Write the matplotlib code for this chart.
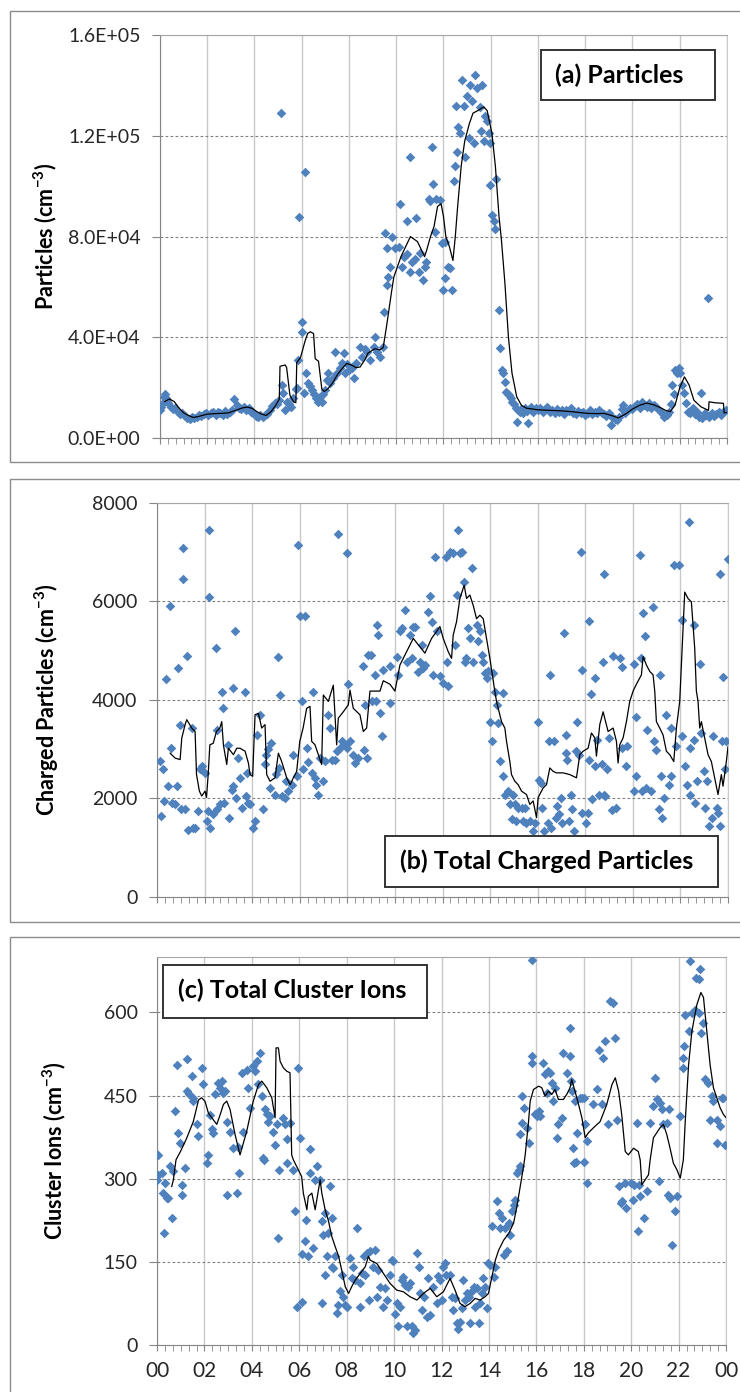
import matplotlib
matplotlib.use('Agg')
import matplotlib.pyplot as plt
import numpy as np
from matplotlib.patches import Rectangle

plt.rcParams['font.family'] = ['Lato', 'DejaVu Sans']
plt.rcParams['mathtext.fontset'] = 'custom'
plt.rcParams['mathtext.rm'] = 'Lato'
plt.rcParams['mathtext.bf'] = 'Lato:bold'

# (hour of day, concentration) for each measurement, and the running mean line
particles_pts = [
    (0.0, 11000), (0.05, 12500), (0.1, 13500), (0.15, 16500), (0.2, 17500), (0.25, 16000),
    (0.3, 15000), (0.35, 14000), (0.45, 12500), (0.55, 11500), (0.65, 12000), (0.75, 10500),
    (0.85, 9500), (0.95, 9800), (1.05, 8800), (1.15, 8000), (1.25, 7500), (1.35, 8500),
    (1.45, 7800), (1.55, 8200), (1.65, 9000), (1.75, 8700), (1.85, 9500), (1.95, 10000),
    (2.05, 9200), (2.15, 9800), (2.25, 10500), (2.35, 9300), (2.45, 10200), (2.55, 9800),
    (2.65, 9000), (2.75, 10800), (2.85, 9600), (2.95, 10300), (3.05, 11000), (3.15, 15500),
    (3.25, 13000), (3.35, 12000), (3.45, 11500), (3.55, 12500), (3.65, 11000), (3.75, 12000),
    (3.85, 10500), (3.95, 9800), (4.05, 8800), (4.15, 8200), (4.25, 9300), (4.35, 8500),
    (4.45, 9000), (4.55, 9700), (4.65, 11000), (4.75, 12800), (4.85, 14000), (4.95, 13500),
    (5.05, 15000), (5.11, 128900), (5.15, 21000), (5.22, 18000), (5.3, 11000), (5.36, 14500),
    (5.45, 13500), (5.55, 12500), (5.65, 16000), (5.75, 19500), (5.8, 20000), (5.86, 31000),
    (5.87, 87900), (6.0, 46200), (6.02, 42200), (6.14, 105700), (6.1, 18000), (6.2, 25800),
    (6.28, 22000), (6.35, 20500), (6.45, 19000), (6.5, 17500), (6.6, 16000), (6.7, 14500),
    (6.78, 16500), (6.85, 14400), (6.92, 17500), (6.99, 19000), (7.05, 23000), (7.13, 25800),
    (7.2, 22000), (7.34, 24000), (7.42, 34000), (7.5, 26000), (7.63, 28000), (7.7, 30000),
    (7.77, 33700), (7.85, 26000), (7.91, 29600), (8.0, 27000), (8.12, 28000), (8.2, 24000),
    (8.3, 30000), (8.47, 36200), (8.55, 32000), (8.69, 35500), (8.78, 34000), (8.9, 31000),
    (9.05, 36200), (9.1, 40200), (9.2, 34000), (9.32, 32300), (9.46, 36000), (9.49, 50100),
    (9.53, 81300), (9.6, 60700), (9.62, 75300), (9.67, 64000), (9.74, 68000), (9.82, 80000),
    (9.96, 75300), (10.1, 76000), (10.17, 92900), (10.24, 68000), (10.31, 72000), (10.45, 73000),
    (10.47, 86000), (10.59, 66000), (10.6, 111600), (10.66, 70000), (10.8, 71000), (10.82, 87200),
    (10.95, 66000), (11.0, 73500), (11.14, 62700), (11.21, 68000), (11.28, 70000), (11.37, 95000),
    (11.44, 94000), (11.51, 115600), (11.54, 101000), (11.63, 82000), (11.7, 95000), (11.86, 94500),
    (11.92, 77300), (11.99, 58700), (12.06, 63400), (12.08, 78000), (12.2, 68000), (12.27, 67500),
    (12.35, 58700), (12.46, 102000), (12.5, 108000), (12.54, 132000), (12.58, 113600),
    (12.63, 123600), (12.7, 121000), (12.78, 142000), (12.88, 132000), (12.92, 111700),
    (12.99, 136000), (13.06, 119000), (13.14, 140000), (13.2, 134000), (13.28, 117000),
    (13.35, 144000), (13.42, 138800), (13.56, 131500), (13.57, 122000), (13.63, 140000),
    (13.7, 118000), (13.77, 128000), (13.84, 126000), (13.91, 121000), (13.95, 117000),
    (13.98, 100400), (14.05, 88500), (14.15, 86000), (14.19, 83000), (14.24, 103000),
    (14.34, 50800), (14.4, 35700), (14.47, 27000), (14.53, 26000), (14.6, 22400), (14.66, 18400),
    (14.72, 17500), (14.78, 17000), (14.85, 15900), (14.92, 14500), (15.0, 13500), (15.05, 12000),
    (15.1, 6500), (15.15, 11000), (15.22, 10500), (15.3, 11500), (15.38, 10000), (15.45, 12000),
    (15.52, 10800), (15.57, 5900), (15.62, 11500), (15.7, 12500), (15.8, 10500), (15.9, 11800),
    (16.0, 11000), (16.1, 12000), (16.2, 10200), (16.3, 11500), (16.4, 12300), (16.5, 10500),
    (16.6, 11000), (16.7, 10000), (16.8, 11600), (16.9, 10400), (17.0, 11000), (17.1, 9600),
    (17.2, 11000), (17.3, 10800), (17.4, 12000), (17.5, 10000), (17.6, 9500), (17.7, 10600),
    (17.8, 9800), (17.9, 10300), (18.0, 9200), (18.1, 10000), (18.2, 11000), (18.3, 9500),
    (18.4, 10400), (18.5, 9800), (18.6, 11000), (18.7, 10000), (18.8, 9400), (18.9, 8800),
    (19.0, 9800), (19.07, 5200), (19.15, 8500), (19.25, 7500), (19.35, 7000), (19.45, 8200),
    (19.55, 11500), (19.6, 13000), (19.7, 10000), (19.8, 11000), (19.9, 12000), (20.0, 11500),
    (20.1, 12800), (20.2, 13500), (20.3, 12000), (20.4, 14500), (20.5, 13000), (20.6, 12500),
    (20.7, 14000), (20.8, 12000), (20.9, 13000), (21.0, 12500), (21.1, 11500), (21.2, 10500),
    (21.3, 9500), (21.35, 8500), (21.45, 9000), (21.55, 10500), (21.62, 13500), (21.68, 21000),
    (21.75, 17500), (21.82, 27000), (21.9, 26000), (21.96, 27800), (22.03, 25800), (22.1, 21000),
    (22.18, 18000), (22.28, 13800), (22.35, 10500), (22.42, 10000), (22.5, 11500), (22.58, 12000),
    (22.65, 9500), (22.72, 10500), (22.8, 8500), (22.9, 17800), (22.96, 8000), (23.05, 10000),
    (23.12, 9000), (23.2, 55600), (23.25, 8500), (23.35, 9800), (23.45, 8700), (23.55, 9500),
    (23.65, 10200), (23.75, 9000), (23.85, 10500), (23.95, 11000),
]
particles_avg = [
    (0.2, 14500), (0.4, 15500), (0.6, 14500), (0.8, 12000), (1.0, 10000), (1.2, 9000),
    (1.4, 8200), (1.6, 8500), (1.8, 9000), (2.0, 9500), (2.3, 9700), (2.6, 9800), (2.9, 10000),
    (3.2, 11000), (3.5, 12000), (3.7, 12300), (3.9, 11800), (4.1, 10500), (4.3, 9500),
    (4.5, 9000), (4.7, 10500), (4.9, 13000), (5.05, 15500), (5.08, 28500), (5.3, 29000),
    (5.36, 28000), (5.5, 17000), (5.65, 14500), (5.75, 14000), (5.79, 30000), (5.95, 32000),
    (6.14, 38500), (6.25, 41500), (6.36, 42200), (6.5, 41500), (6.57, 31500), (6.71, 30500),
    (6.85, 19500), (6.95, 18500), (7.1, 19500), (7.3, 21800), (7.5, 25000), (7.7, 27500),
    (7.9, 29600), (8.1, 29000), (8.3, 28000), (8.47, 28200), (8.7, 31500), (8.8, 33700),
    (9.1, 35500), (9.3, 35000), (9.45, 36000), (9.6, 45000), (9.8, 58000), (9.9, 64000),
    (10.2, 72000), (10.4, 76000), (10.6, 80000), (10.9, 78000), (11.2, 72000), (11.3, 75000),
    (11.45, 80000), (11.6, 84000), (11.75, 92000), (11.9, 93000), (12.0, 88000), (12.1, 80000),
    (12.25, 76000), (12.4, 70500), (12.5, 80000), (12.6, 92000), (12.75, 108000),
    (12.9, 118000), (13.1, 125000), (13.25, 129000), (13.45, 130000), (13.7, 131500),
    (13.85, 130000), (14.05, 121000), (14.2, 107600), (14.35, 88000), (14.45, 79000),
    (14.6, 61500), (14.75, 40000), (14.9, 25800), (15.1, 16400), (15.3, 13000), (15.5, 11900),
    (16.0, 11200), (16.5, 11000), (17.0, 10800), (17.4, 10500), (18.1, 9800), (18.5, 9700),
    (18.8, 9800), (19.1, 9000), (19.4, 8000), (19.7, 9500), (20.0, 11500), (20.3, 13000),
    (20.6, 13900), (20.9, 13200), (21.2, 12000), (21.4, 11000), (21.6, 10500), (21.8, 13000),
    (22.0, 20000), (22.2, 24300), (22.4, 21000), (22.6, 15000), (22.9, 12400), (23.1, 11500),
    (23.22, 11000), (23.24, 14400), (23.5, 14000), (23.85, 13800), (23.88, 10000), (24.0, 10200),
]

charged_pts = [
    (0.13, 2755), (0.17, 1640), (0.27, 2590), (0.28, 1950), (0.38, 4425), (0.48, 2250),
    (0.55, 5900), (0.57, 3020), (0.62, 1910), (0.76, 1880), (0.82, 2250), (0.9, 4640),
    (0.97, 3500), (0.99, 1780), (1.08, 6450), (1.1, 7080), (1.18, 1780), (1.24, 4900),
    (1.32, 1370), (1.46, 3430), (1.5, 1410), (1.6, 1410), (1.73, 1740), (1.8, 2590),
    (1.88, 2650), (2.0, 2520), (2.08, 1540), (2.15, 1740), (2.17, 6100), (2.2, 7460),
    (2.22, 1410), (2.36, 1680), (2.48, 5050), (2.5, 3400), (2.52, 1780), (2.65, 1880),
    (2.72, 4170), (2.79, 3830), (2.8, 1910), (3.0, 3090), (3.02, 1610), (3.14, 2180),
    (3.18, 4240), (3.2, 2250), (3.28, 5390), (3.3, 2010), (3.42, 2820), (3.48, 2420),
    (3.56, 1810), (3.7, 4170), (3.72, 2050), (3.77, 2520), (3.84, 1910), (3.9, 1880),
    (4.05, 1410), (4.12, 1540), (4.19, 3290), (4.33, 3700), (4.47, 1780), (4.54, 2690),
    (4.6, 2890), (4.68, 3000), (4.74, 2215), (4.81, 3130), (4.95, 2080), (5.0, 2490),
    (5.1, 4880), (5.12, 2620), (5.17, 4100), (5.24, 2050), (5.38, 2010), (5.44, 2350),
    (5.52, 2150), (5.66, 2280), (5.73, 2890), (5.87, 2450), (5.94, 7150), (6.0, 5700),
    (6.08, 3970), (6.15, 2590), (6.22, 5700), (6.29, 3020), (6.36, 2750), (6.5, 2520),
    (6.56, 4170), (6.64, 2420), (6.7, 2280), (6.77, 2080), (6.85, 2820), (6.99, 2350),
    (7.06, 2755), (7.2, 3700), (7.27, 3430), (7.34, 2790), (7.48, 2790), (7.55, 2960),
    (7.62, 7370), (7.69, 3020), (7.76, 3160), (7.9, 3090), (7.97, 3020), (8.0, 6980),
    (8.04, 4330), (8.1, 3160), (8.25, 2890), (8.32, 2720), (8.46, 2820), (8.67, 4690),
    (8.7, 2990), (8.74, 3900), (8.81, 2820), (8.88, 4910), (9.0, 4910), (9.02, 3970),
    (9.16, 4510), (9.2, 3970), (9.23, 5520), (9.3, 5320), (9.37, 3730), (9.44, 3260),
    (9.5, 4610), (9.79, 4680), (9.8, 3930), (10.07, 4880), (10.14, 4510), (10.21, 5390),
    (10.28, 5460), (10.42, 5830), (10.49, 4780), (10.63, 5320), (10.7, 4850), (10.77, 5490),
    (10.84, 5490), (10.98, 4570), (11.05, 4780), (11.12, 5120), (11.19, 4650), (11.26, 4710),
    (11.4, 5780), (11.47, 6110), (11.54, 5590), (11.61, 4510), (11.68, 6910), (11.75, 5390),
    (11.89, 4480), (12.03, 4350), (12.14, 6910), (12.17, 4780), (12.24, 4280), (12.31, 7010),
    (12.45, 6980), (12.52, 5120), (12.62, 6130), (12.66, 7450), (12.73, 6980), (12.8, 7000),
    (12.9, 6400), (12.94, 4780), (13.0, 4850), (13.08, 5460), (13.15, 5250), (13.22, 6670),
    (13.29, 4780), (13.43, 5530), (13.5, 5190), (13.57, 5390), (13.64, 4920), (13.71, 4780),
    (13.78, 4540), (13.85, 4440), (13.92, 4580), (14.0, 3560), (14.06, 3160), (14.13, 4540),
    (14.2, 4170), (14.28, 3900), (14.35, 3530), (14.41, 2755), (14.55, 2450), (14.56, 4140),
    (14.62, 2080), (14.76, 2150), (14.83, 1880), (14.9, 1575), (14.97, 2080), (15.04, 1880),
    (15.1, 1540), (15.18, 1810), (15.32, 1810), (15.38, 1540), (15.45, 1810), (15.52, 1510),
    (15.66, 1540), (15.8, 1340), (15.87, 1510), (16.0, 3560), (16.07, 2380), (16.14, 2310),
    (16.2, 1810), (16.28, 1340), (16.42, 1510), (16.49, 3160), (16.5, 4510), (16.56, 1410),
    (16.7, 3160), (16.77, 1610), (16.83, 1850), (16.9, 1680), (16.97, 2010), (17.04, 1510),
    (17.1, 5360), (17.18, 3290), (17.2, 2920), (17.25, 2790), (17.32, 1540), (17.39, 2080),
    (17.46, 1780), (17.53, 1340), (17.6, 2960), (17.67, 3560), (17.74, 2890), (17.8, 7010),
    (17.86, 4600), (17.88, 1710), (18.02, 1510), (18.1, 1710), (18.15, 2790), (18.17, 5600),
    (18.22, 4130), (18.3, 1980), (18.4, 4450), (18.43, 2650), (18.5, 3190), (18.58, 2080),
    (18.72, 2690), (18.75, 4780), (18.78, 2080), (18.8, 6550), (18.85, 2050), (18.93, 2590),
    (19.0, 3220), (19.14, 1760), (19.15, 4890), (19.28, 1810), (19.46, 4860), (19.55, 3020),
    (19.56, 4660), (19.7, 2650), (19.77, 3060), (20.03, 4740), (20.05, 2150), (20.12, 3660),
    (20.13, 2450), (20.28, 6940), (20.34, 4860), (20.4, 2150), (20.42, 5760), (20.52, 5290),
    (20.54, 2215), (20.6, 3390), (20.75, 2150), (20.84, 5880), (20.9, 3160), (20.96, 2990),
    (21.1, 1780), (21.15, 4500), (21.17, 2450), (21.24, 1610), (21.3, 2010), (21.38, 3700),
    (21.52, 2280), (21.59, 2450), (21.6, 3430), (21.73, 6730), (21.8, 3060), (21.96, 6740),
    (22.06, 3260), (22.08, 5620), (22.2, 2650), (22.27, 2280), (22.37, 7610), (22.4, 3020),
    (22.42, 2080), (22.55, 3190), (22.57, 5520), (22.62, 1910), (22.69, 2350), (22.83, 4730),
    (22.85, 3330), (22.97, 2550), (23.04, 1810), (23.11, 2350), (23.18, 1440), (23.32, 1610),
    (23.39, 3260), (23.53, 1810), (23.6, 1710), (23.67, 6550), (23.68, 1440), (23.74, 3160),
    (23.81, 4460), (23.88, 2590), (23.9, 3160), (24.0, 6860),
]
charged_avg = [
    (0.55, 2920), (0.76, 2820), (0.97, 2790), (1.04, 3225), (1.18, 3500), (1.25, 3600),
    (1.46, 3430), (1.6, 3360), (1.66, 2485), (1.78, 2150), (1.88, 2050), (2.02, 2150),
    (2.08, 2020), (2.15, 2485), (2.22, 3090), (2.36, 3120), (2.5, 3360), (2.64, 3430),
    (2.72, 3560), (2.79, 3090), (2.93, 2690), (3.0, 3020), (3.21, 2890), (3.35, 3020),
    (3.49, 3020), (3.7, 2960), (3.84, 2720), (3.91, 2485), (4.02, 2450), (4.12, 3700),
    (4.26, 3730), (4.4, 3430), (4.54, 3500), (4.61, 2485), (4.75, 2350), (4.96, 2420),
    (5.1, 2920), (5.24, 2750), (5.45, 2420), (5.59, 2280), (5.73, 2420), (5.87, 2550),
    (6.0, 3160), (6.14, 3430), (6.29, 3830), (6.43, 3870), (6.5, 3160), (6.64, 3090),
    (6.78, 2890), (6.92, 2690), (6.99, 4100), (7.2, 3970), (7.41, 4300), (7.55, 3090),
    (7.62, 3630), (7.83, 3760), (8.04, 3900), (8.11, 4200), (8.25, 3830), (8.53, 3700),
    (8.67, 3360), (8.81, 3430), (8.95, 4180), (9.37, 4180), (9.51, 4390), (9.79, 4320),
    (10.0, 4180), (10.21, 4710), (10.49, 4980), (10.77, 5250), (11.05, 5080), (11.26, 4950),
    (11.54, 5250), (11.75, 5390), (11.89, 5490), (12.03, 5250), (12.24, 4980), (12.38, 4845),
    (12.45, 5320), (12.59, 5590), (12.73, 6060), (12.91, 6330), (13.01, 6060), (13.15, 6130),
    (13.29, 5920), (13.43, 5650), (13.57, 5720), (13.71, 5650), (13.85, 5250), (13.99, 4845),
    (14.2, 4170), (14.27, 3970), (14.48, 3560), (14.62, 3430), (14.69, 3160), (14.83, 2750),
    (14.9, 2485), (15.04, 2350), (15.18, 2280), (15.32, 2150), (15.53, 2080), (15.67, 1880),
    (15.81, 1950), (15.95, 1610), (16.02, 2020), (16.23, 2215), (16.37, 2280), (16.51, 2620),
    (16.65, 2550), (16.79, 2520), (17.07, 2520), (17.35, 2485), (17.63, 2420), (17.77, 2890),
    (17.91, 2960), (18.12, 3020), (18.26, 3330), (18.4, 3230), (18.47, 2860), (18.61, 3500),
    (18.75, 3760), (18.96, 3360), (19.17, 3430), (19.31, 3160), (19.38, 2720), (19.45, 3090),
    (19.59, 3230), (19.73, 3560), (19.87, 3970), (20.01, 4180), (20.15, 4320), (20.36, 4510),
    (20.43, 4880), (20.57, 4710), (20.71, 4580), (20.85, 4510), (20.92, 4180), (20.99, 3560),
    (21.13, 3430), (21.27, 3290), (21.41, 2960), (21.55, 2890), (21.72, 2750), (21.83, 3430),
    (21.97, 3970), (22.04, 4710), (22.18, 6190), (22.32, 6060), (22.46, 5990), (22.6, 5050),
    (22.67, 4180), (22.74, 3970), (22.81, 3430), (22.88, 3560), (23.02, 3230), (23.16, 2890),
    (23.3, 2750), (23.44, 2420), (23.58, 2080), (23.72, 2485), (23.79, 2250), (23.93, 2750),
    (24.0, 3050),
]

cluster_pts = [
    (0.0, 297), (0.02, 343), (0.06, 307), (0.2, 310), (0.27, 274), (0.3, 202), (0.34, 292),
    (0.41, 265), (0.45, 265), (0.55, 322), (0.62, 229), (0.69, 313), (0.76, 422), (0.83, 505),
    (0.9, 382), (0.97, 364), (1.04, 289), (1.06, 271), (1.18, 319), (1.25, 458), (1.28, 516),
    (1.35, 452), (1.46, 485), (1.5, 440), (1.53, 446), (1.67, 398), (1.74, 377), (1.88, 500),
    (1.95, 470), (2.1, 328), (2.17, 343), (2.24, 415), (2.31, 389), (2.38, 383), (2.45, 452),
    (2.59, 473), (2.66, 464), (2.73, 476), (2.8, 455), (2.87, 458), (2.94, 403), (2.95, 271),
    (3.08, 385), (3.22, 355), (3.36, 274), (3.43, 358), (3.45, 310), (3.57, 491), (3.64, 385),
    (3.78, 497), (3.85, 464), (3.92, 428), (4.06, 503), (4.13, 494), (4.2, 512), (4.27, 470),
    (4.34, 527), (4.41, 449), (4.48, 338), (4.5, 334), (4.55, 425), (4.62, 416), (4.69, 403),
    (4.76, 413), (4.91, 385), (4.98, 361), (5.05, 398), (5.12, 193), (5.14, 316), (5.33, 410),
    (5.4, 398), (5.47, 371), (5.5, 328), (5.61, 401), (5.75, 316), (5.82, 241), (5.89, 69),
    (5.96, 500), (6.03, 374), (6.1, 78), (6.12, 165), (6.24, 187), (6.29, 226), (6.38, 160),
    (6.45, 310), (6.46, 353), (6.6, 175), (6.67, 298), (6.74, 322), (6.88, 298), (6.95, 75),
    (6.96, 223), (7.02, 199), (7.09, 127), (7.1, 238), (7.16, 160), (7.23, 202), (7.3, 286),
    (7.37, 141), (7.4, 229), (7.44, 138), (7.51, 160), (7.58, 57), (7.65, 72), (7.72, 97),
    (7.79, 127), (7.86, 87), (7.93, 72), (8.0, 69), (8.14, 157), (8.21, 120), (8.28, 141),
    (8.35, 117), (8.42, 211), (8.57, 69), (8.58, 111), (8.64, 129), (8.71, 160), (8.78, 127),
    (8.85, 166), (8.92, 81), (8.99, 169), (9.13, 141), (9.2, 172), (9.27, 87), (9.34, 135),
    (9.41, 105), (9.55, 69), (9.62, 103), (9.69, 81), (9.83, 127), (9.9, 154), (9.97, 151),
    (10.04, 55), (10.11, 75), (10.18, 34), (10.25, 69), (10.32, 117), (10.39, 123), (10.46, 108),
    (10.53, 34), (10.6, 105), (10.67, 111), (10.74, 34), (10.81, 21), (10.88, 27), (10.96, 166),
    (11.03, 141), (11.1, 93), (11.17, 63), (11.24, 87), (11.38, 51), (11.45, 120), (11.52, 54),
    (11.66, 105), (11.8, 75), (11.87, 125), (11.94, 117), (12.0, 81), (12.07, 141), (12.15, 148),
    (12.2, 127), (12.36, 127), (12.43, 87), (12.5, 63), (12.57, 84), (12.64, 39), (12.71, 28),
    (12.78, 42), (12.85, 66), (12.92, 117), (12.99, 81), (13.07, 93), (13.14, 87), (13.21, 39),
    (13.28, 97), (13.35, 105), (13.42, 69), (13.49, 102), (13.56, 39), (13.63, 75), (13.7, 93),
    (13.77, 120), (13.84, 105), (13.91, 66), (13.98, 148), (14.05, 145), (14.13, 214),
    (14.2, 123), (14.27, 141), (14.33, 259), (14.41, 238), (14.47, 211), (14.54, 229),
    (14.62, 163), (14.69, 211), (14.76, 169), (14.83, 220), (14.9, 199), (14.97, 241),
    (15.04, 253), (15.11, 262), (15.18, 310), (15.25, 316), (15.3, 380), (15.32, 322),
    (15.39, 449), (15.4, 400), (15.49, 428), (15.6, 392), (15.67, 364), (15.8, 694),
    (15.81, 521), (15.83, 509), (15.95, 416), (16.03, 413), (16.1, 422), (16.16, 413),
    (16.3, 509), (16.37, 488), (16.44, 455), (16.51, 494), (16.58, 491), (16.65, 473),
    (16.72, 440), (16.79, 464), (16.86, 374), (16.93, 398), (17.07, 410), (17.11, 527),
    (17.28, 491), (17.4, 521), (17.42, 572), (17.45, 476), (17.49, 458), (17.56, 356),
    (17.6, 328), (17.63, 440), (17.67, 331), (17.7, 383), (17.85, 446), (17.92, 446),
    (18.0, 446), (18.02, 331), (18.06, 398), (18.13, 368), (18.15, 292), (18.41, 434),
    (18.55, 461), (18.66, 533), (18.76, 434), (18.83, 518), (18.9, 548), (19.04, 398),
    (19.11, 620), (19.22, 617), (19.32, 554), (19.4, 406), (19.5, 286), (19.55, 256),
    (19.6, 259), (19.75, 292), (19.8, 247), (20.0, 292), (20.07, 262), (20.1, 289),
    (20.24, 400), (20.3, 205), (20.32, 289), (20.38, 268), (20.52, 229), (20.66, 277),
    (20.8, 400), (20.94, 431), (21.0, 482), (21.1, 443), (21.16, 295), (21.2, 437),
    (21.28, 425), (21.36, 398), (21.5, 400), (21.57, 271), (21.6, 425), (21.64, 265),
    (21.71, 181), (21.86, 241), (21.93, 268), (22.06, 413), (22.18, 499), (22.2, 518),
    (22.23, 539), (22.28, 596), (22.42, 566), (22.49, 692), (22.56, 599), (22.7, 605),
    (22.72, 663), (22.84, 660), (22.86, 599), (22.91, 678), (22.93, 563), (23.05, 581),
    (23.12, 479), (23.26, 473), (23.33, 406), (23.4, 449), (23.47, 440), (23.6, 406),
    (23.61, 364), (23.75, 395), (23.82, 446), (23.89, 446), (23.96, 360),
]
cluster_avg = [
    (0.62, 286), (0.69, 298), (0.8, 334), (1.0, 350), (1.25, 373), (1.53, 403), (1.75, 442),
    (1.88, 446), (2.02, 440), (2.17, 418), (2.52, 398), (2.66, 415), (2.8, 434), (2.94, 440),
    (3.08, 425), (3.29, 380), (3.5, 343), (3.78, 385), (4.06, 440), (4.28, 470), (4.42, 476),
    (4.63, 464), (4.84, 446), (4.98, 410), (5.02, 536), (5.12, 536), (5.19, 512), (5.33, 500),
    (5.47, 494), (5.61, 491), (5.68, 343), (5.75, 334), (5.89, 322), (6.1, 304), (6.17, 274),
    (6.32, 244), (6.38, 268), (6.53, 274), (6.67, 244), (6.74, 262), (6.88, 298), (6.95, 274),
    (7.09, 244), (7.23, 224), (7.37, 196), (7.51, 178), (7.66, 160), (7.8, 133), (7.94, 105),
    (8.08, 93), (8.21, 105), (8.36, 117), (8.57, 129), (8.78, 141), (8.92, 160), (8.99, 153),
    (9.27, 147), (9.55, 129), (9.83, 111), (10.11, 99), (10.39, 96), (10.67, 87), (10.96, 81),
    (11.24, 93), (11.52, 102), (11.8, 87), (12.08, 96), (12.36, 120), (12.57, 99), (12.78, 75),
    (12.99, 69), (13.21, 75), (13.42, 84), (13.63, 81), (13.84, 87), (13.98, 93), (14.13, 124),
    (14.27, 153), (14.41, 171), (14.62, 189), (14.83, 201), (15.04, 220), (15.18, 250),
    (15.32, 286), (15.46, 322), (15.53, 343), (15.67, 403), (15.74, 440), (15.88, 461),
    (16.1, 467), (16.23, 464), (16.37, 449), (16.51, 458), (16.65, 452), (16.79, 461),
    (16.93, 443), (17.14, 443), (17.28, 452), (17.42, 464), (17.49, 479), (17.63, 458),
    (17.78, 434), (17.92, 410), (18.06, 374), (18.2, 383), (18.41, 392), (18.69, 403),
    (18.97, 434), (19.19, 470), (19.33, 482), (19.47, 458), (19.6, 416), (19.75, 349),
    (19.88, 343), (20.1, 355), (20.3, 349), (20.38, 334), (20.45, 289), (20.59, 298),
    (20.73, 307), (20.8, 334), (20.94, 374), (21.22, 392), (21.36, 398), (21.5, 380),
    (21.64, 355), (21.78, 328), (21.93, 316), (22.07, 301), (22.2, 334), (22.28, 403),
    (22.42, 505), (22.56, 566), (22.77, 614), (22.94, 636), (23.05, 627), (23.19, 566),
    (23.33, 505), (23.47, 464), (23.61, 446), (23.75, 428), (23.89, 416), (24.0, 410),
]

particles_ticks = [0, 40000, 80000, 120000, 160000]
charged_ticks = [0, 2000, 4000, 6000, 8000]
cluster_ticks = [0, 150, 300, 450, 600]
hour_ticks = list(range(0, 25, 2))
hour_labels = [f'{h % 24:02d}' for h in hour_ticks]

MARKER = '#4F81BD'
AXIS_GREY = '#868686'


def draw_panel(ax, pts, avg, ymax, yticks, ylabels, ylabel, label_x,
               tag, tag_box, tag_pos, show_hours=False):
    """Scatter of the raw values with the running-mean line on top."""
    t, v = np.array(pts, dtype=float).T
    lt, lv = np.array(avg, dtype=float).T
    ax.scatter(t, v, marker='D', s=24, color=MARKER, linewidths=0, zorder=3)
    ax.plot(lt, lv, color='black', lw=0.9, zorder=4)

    ax.set_xlim(0, 24)
    ax.set_ylim(0, ymax)
    ax.set_xticks(hour_ticks)
    ax.set_xticks(np.arange(0, 24.01, 1 / 3), minor=True)
    ax.set_xticklabels(hour_labels if show_hours else [])
    ax.set_yticks(yticks)
    ax.set_yticklabels(ylabels)

    ax.set_axisbelow(True)
    ax.xaxis.grid(True, color='#c9c9c9', lw=1.0, ls='-')
    ax.yaxis.grid(True, color='#808080', lw=0.8, ls=(0, (2.5, 2)))
    for side in ('left', 'bottom'):
        ax.spines[side].set_color(AXIS_GREY)
    ax.spines['top'].set_color('#a6a6a6')
    ax.spines['right'].set_color('#c9c9c9')

    ax.tick_params(axis='y', direction='out', length=6, color=AXIS_GREY,
                   labelsize=14, pad=8, labelcolor='#262626')
    ax.tick_params(axis='x', which='both', direction='out', length=4.5,
                   color=AXIS_GREY, labelsize=15, pad=7, labelcolor='#262626')

    ax.set_ylabel(ylabel, fontsize=15.5, fontweight='bold', va='center')
    ax.yaxis.set_label_coords(label_x, 0.5)

    x0, y0, x1, y1 = tag_box
    ax.add_patch(Rectangle((x0, y0), x1 - x0, y1 - y0, transform=ax.transAxes,
                           facecolor='white', edgecolor='#333333', lw=1.4, zorder=6))
    ax.text(tag_pos[0], tag_pos[1], tag, transform=ax.transAxes, fontsize=18,
            fontweight='bold', ha='left', va='center', zorder=7)


fig = plt.figure(figsize=(7.4, 13.92), dpi=100)

# chart area frames around each panel
for top, bottom in [(0.9921, 0.6681), (0.6559, 0.3376), (0.3269, -0.01)]:
    fig.add_artist(Rectangle((0.0135, bottom), 1.0, top - bottom, transform=fig.transFigure,
                             fill=False, edgecolor='#8c8c8c', lw=1.0))

ax_a = fig.add_axes([0.2162, 0.6853, 0.7662, 0.2895])
ax_b = fig.add_axes([0.2122, 0.3556, 0.7716, 0.2831])
ax_c = fig.add_axes([0.2122, 0.0338, 0.7689, 0.2787])

draw_panel(ax_a, particles_pts, particles_avg, 160000, particles_ticks,
           [f'{v:.1E}' for v in particles_ticks], r'Particles (cm$^{\mathbf{-3}}$)', -0.203,
           '(a) Particles', (0.672, 0.839, 0.979, 0.963), (0.697, 0.901))
draw_panel(ax_b, charged_pts, charged_avg, 8000, charged_ticks,
           [str(v) for v in charged_ticks], r'Charged Particles (cm$^{\mathbf{-3}}$)', -0.193,
           '(b) Total Charged Particles', (0.399, 0.025, 0.983, 0.155), (0.426, 0.092))
draw_panel(ax_c, cluster_pts, cluster_avg, 700, cluster_ticks,
           [str(v) for v in cluster_ticks], r'Cluster Ions (cm$^{\mathbf{-3}}$)', -0.181,
           '(c) Total Cluster Ions', (0.0105, 0.843, 0.4745, 0.979), (0.037, 0.913),
           show_hours=True)

fig.savefig('out.png', dpi=100)
